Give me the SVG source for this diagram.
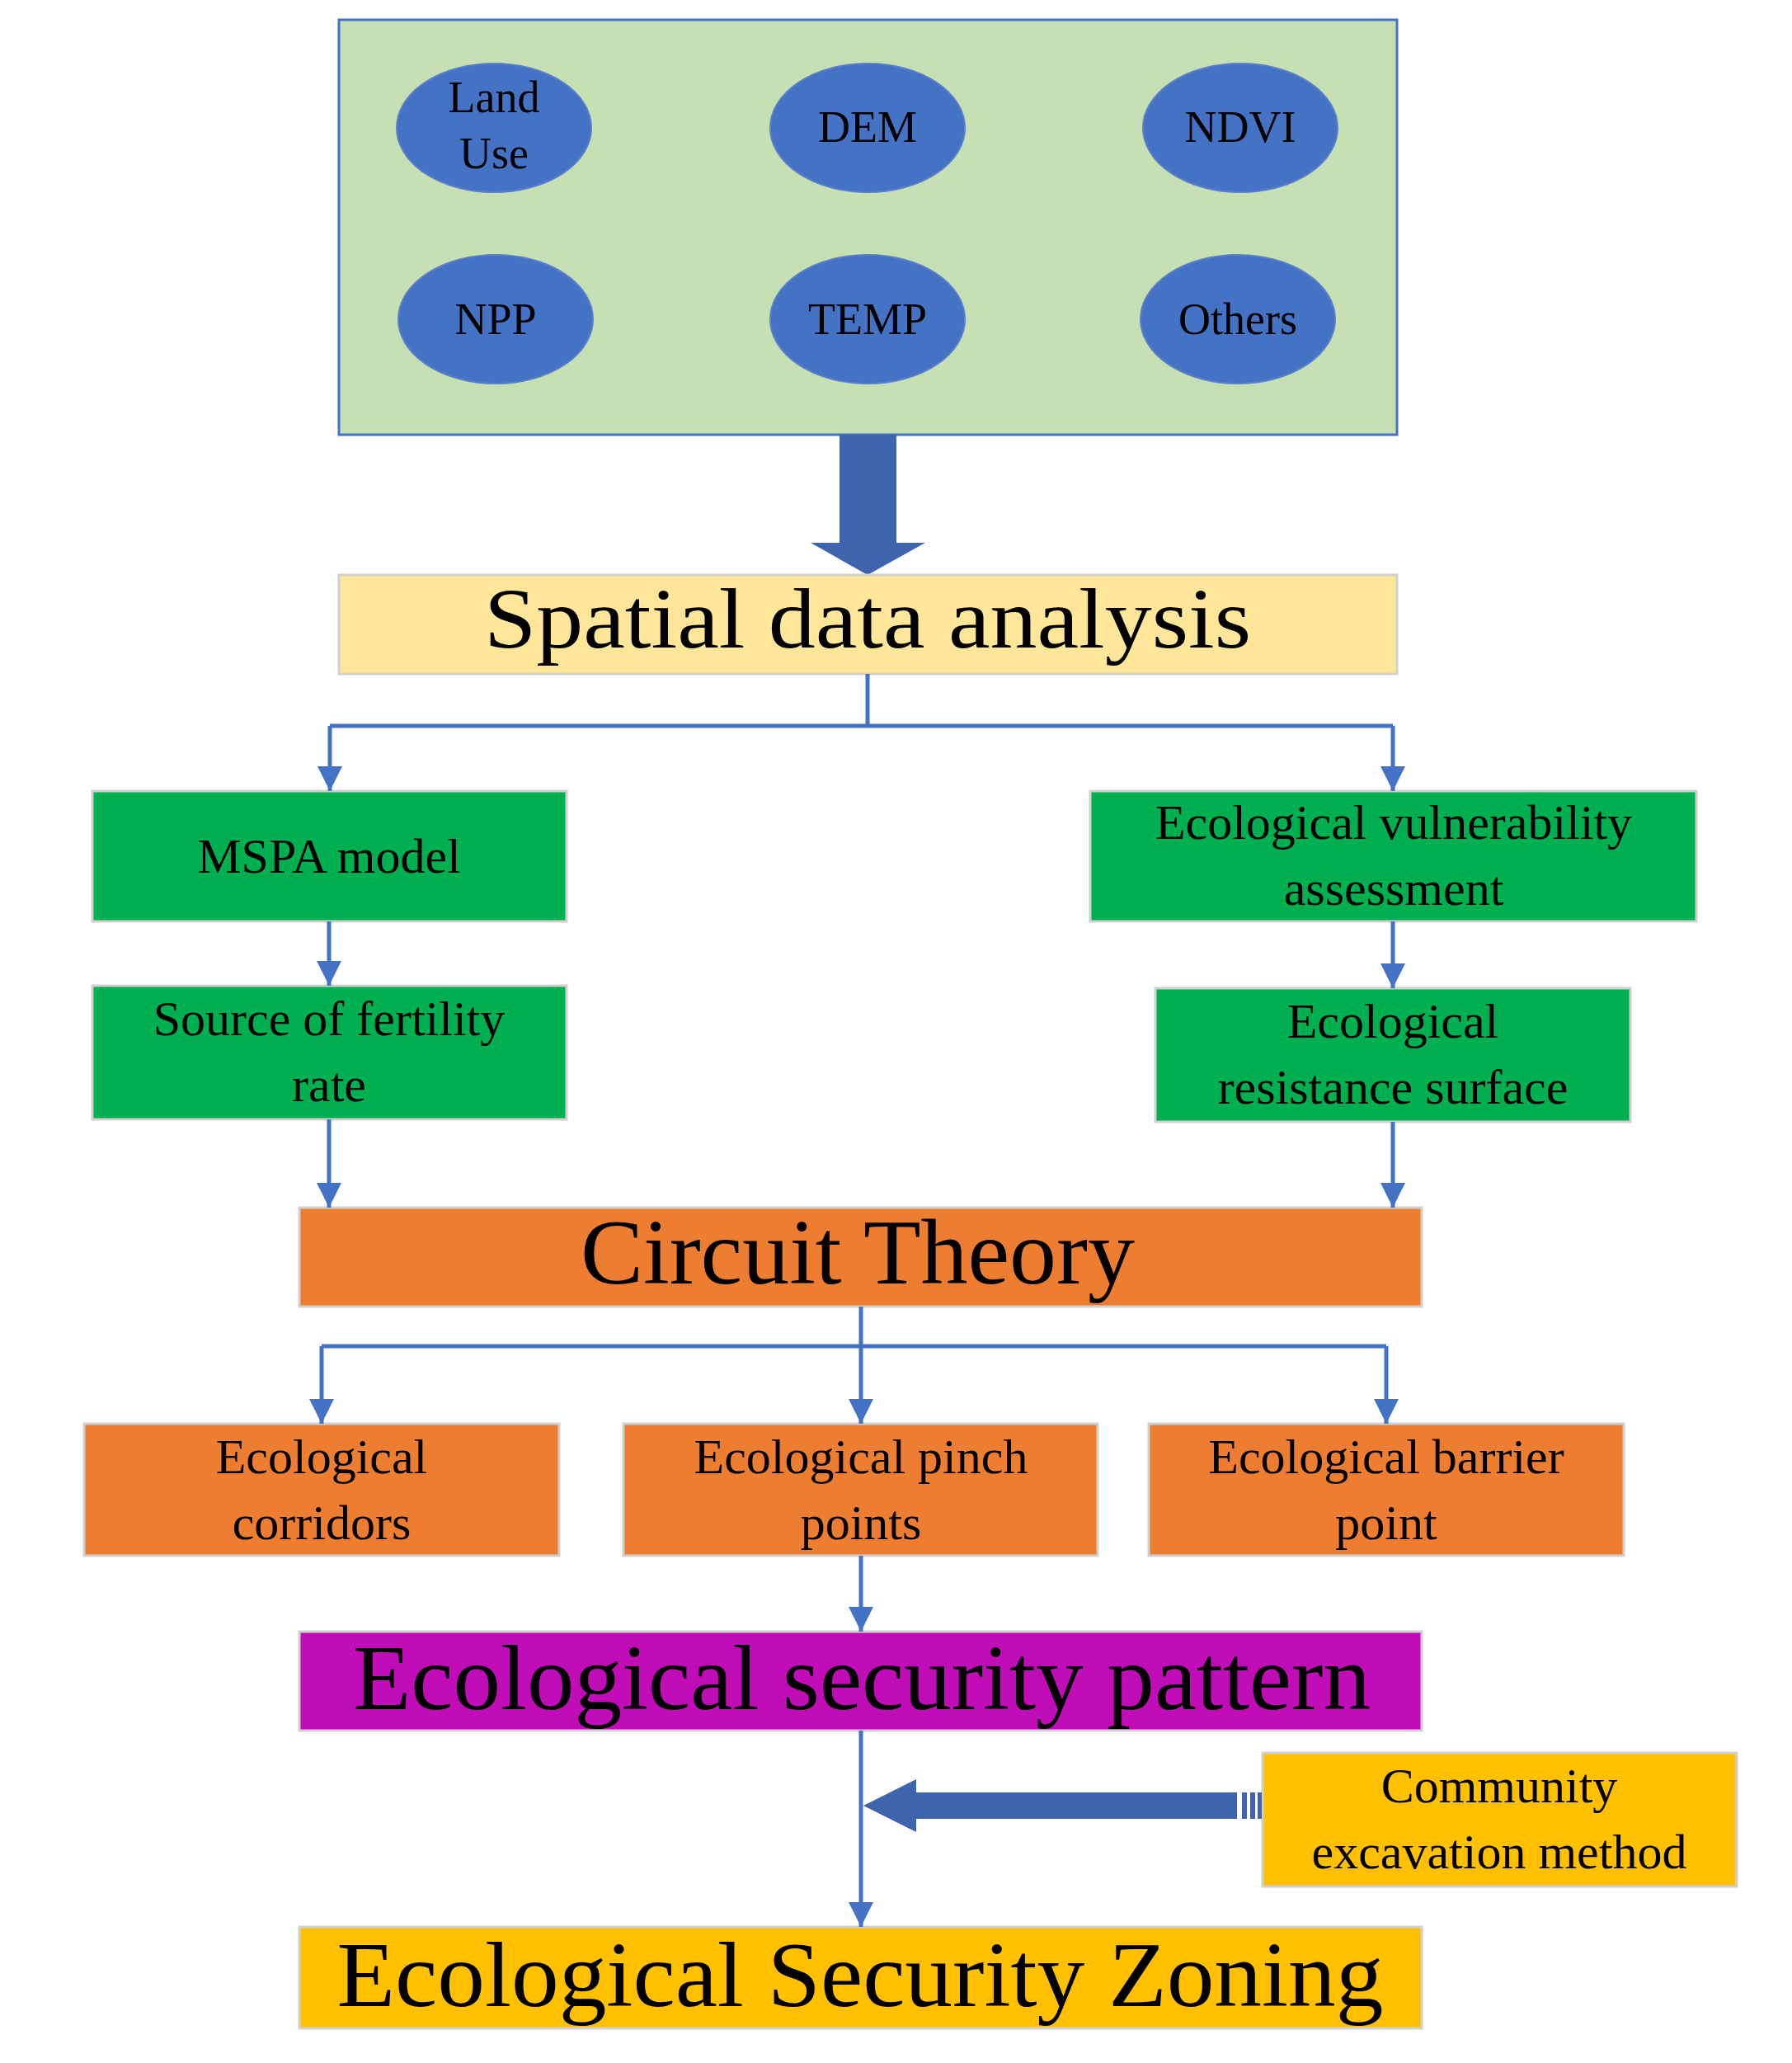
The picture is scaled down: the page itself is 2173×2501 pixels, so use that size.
<svg xmlns="http://www.w3.org/2000/svg" width="2173" height="2501" viewBox="0 0 2173 2501">
<style>
text{font-family:"Liberation Serif","Times New Roman",serif;fill:#000;text-anchor:middle}
.b{stroke:#D0D0D0;stroke-width:3}
.e{fill:#4472C4;stroke:#5B7FC8;stroke-width:2}
.c{stroke:#4472C4;stroke-width:5;fill:none}
.s{font-size:60px}
.o{font-size:54px}
</style>
<defs><marker id="a" markerWidth="8" markerHeight="8" refX="7" refY="4" orient="auto" markerUnits="userSpaceOnUse" viewBox="0 0 8 8"><path d="M0,0L8,4L0,8z" fill="#4472C4"/></marker>
<marker id="m" viewBox="0 0 10 10" refX="10" refY="5" markerWidth="30" markerHeight="30" markerUnits="userSpaceOnUse" orient="auto"><path d="M0,0L10,5L0,10z" fill="#4472C4"/></marker></defs>
<g id="inputs">
<rect x="411" y="24" width="1283" height="503" fill="#C6E0B4" stroke="#4472C4" stroke-width="3"/>
<ellipse class="e" cx="599" cy="155" rx="118" ry="78"/><text class="o" x="599" y="136">Land</text><text class="o" x="599" y="204">Use</text>
<ellipse class="e" cx="1052" cy="155" rx="118" ry="78"/><text class="o" x="1052" y="172">DEM</text>
<ellipse class="e" cx="1504" cy="155" rx="118" ry="78"/><text class="o" x="1504" y="172">NDVI</text>
<ellipse class="e" cx="601" cy="387" rx="118" ry="78"/><text class="o" x="601" y="405">NPP</text>
<ellipse class="e" cx="1052" cy="387" rx="118" ry="78"/><text class="o" x="1052" y="405">TEMP</text>
<ellipse class="e" cx="1501" cy="387" rx="118" ry="78"/><text class="o" x="1501" y="405">Others</text>
</g>
<g id="bigarrow"><path d="M1018,527H1087V658H1122L1052,697L983,658H1018Z" fill="#3E64AD"/></g>
<g id="spatial"><rect class="b" x="411" y="697" width="1283" height="120" fill="#FFE699"/><text x="1052" y="785" font-size="104" textLength="930" lengthAdjust="spacingAndGlyphs">Spatial data analysis</text></g>
<g id="mspa"><rect class="b" x="112" y="959" width="575" height="158" fill="#00B050"/><text class="s" x="399" y="1058">MSPA model</text></g>
<g id="vuln"><rect class="b" x="1322" y="959" width="735" height="158" fill="#00B050"/><text class="s" x="1690" y="1017">Ecological vulnerability</text><text class="s" x="1690" y="1097">assessment</text></g>
<g id="source"><rect class="b" x="112" y="1195" width="575" height="162" fill="#00B050"/><text class="s" x="399" y="1255">Source of fertility</text><text class="s" x="399" y="1335">rate</text></g>
<g id="resist"><rect class="b" x="1401" y="1198" width="576" height="162" fill="#00B050"/><text class="s" x="1689" y="1258">Ecological</text><text class="s" x="1689" y="1338">resistance surface</text></g>
<g id="circuit"><rect class="b" x="363" y="1464" width="1361" height="120" fill="#ED7D31"/><text x="1040" y="1556" font-size="112" textLength="672" lengthAdjust="spacingAndGlyphs">Circuit Theory</text></g>
<g id="corr"><rect class="b" x="102" y="1726" width="576" height="160" fill="#ED7D31"/><text class="s" x="390" y="1786">Ecological</text><text class="s" x="390" y="1866">corridors</text></g>
<g id="pinch"><rect class="b" x="756" y="1726" width="575" height="160" fill="#ED7D31"/><text class="s" x="1044" y="1786">Ecological pinch</text><text class="s" x="1044" y="1866">points</text></g>
<g id="barrier"><rect class="b" x="1393" y="1726" width="576" height="160" fill="#ED7D31"/><text class="s" x="1681" y="1786">Ecological barrier</text><text class="s" x="1681" y="1866">point</text></g>
<g id="esp"><rect class="b" x="363" y="1978" width="1361" height="120" fill="#C00DB8"/><text x="1045" y="2072" font-size="112" textLength="1234" lengthAdjust="spacingAndGlyphs">Ecological security pattern</text></g>
<g id="community"><rect class="b" x="1531" y="2125" width="575" height="162" fill="#FFC000"/><text class="s" x="1818" y="2185">Community</text><text class="s" x="1818" y="2265">excavation method</text></g>
<g id="esz"><rect class="b" x="363" y="2336" width="1361" height="123" fill="#FFC000"/><text x="1043" y="2432" font-size="112" textLength="1269" lengthAdjust="spacingAndGlyphs">Ecological Security Zoning</text></g>
<g id="connectors">
<path class="c" d="M1052,817V880"/>
<path class="c" d="M400,880H1689"/>
<path class="c" d="M400,880V959" marker-end="url(#m)"/>
<path class="c" d="M1689,880V959" marker-end="url(#m)"/>
<path class="c" d="M399,1117V1195" marker-end="url(#m)"/>
<path class="c" d="M1689,1117V1198" marker-end="url(#m)"/>
<path class="c" d="M399,1357V1464" marker-end="url(#m)"/>
<path class="c" d="M1689,1360V1464" marker-end="url(#m)"/>
<path class="c" d="M1044,1584V1632"/>
<path class="c" d="M390,1632H1681"/>
<path class="c" d="M390,1632V1726" marker-end="url(#m)"/>
<path class="c" d="M1044,1632V1726" marker-end="url(#m)"/>
<path class="c" d="M1681,1632V1726" marker-end="url(#m)"/>
<path class="c" d="M1044,1886V1978" marker-end="url(#m)"/>
<path class="c" d="M1044,2098V2336" marker-end="url(#m)"/>
<path d="M1047,2189L1111,2157V2173H1500V2205H1111V2221Z" fill="#3E64AD"/>
<rect x="1506" y="2173" width="6" height="32" fill="#3E64AD"/><rect x="1516" y="2173" width="6" height="32" fill="#3E64AD"/><rect x="1525" y="2173" width="5" height="32" fill="#3E64AD"/>
</g>
</svg>
